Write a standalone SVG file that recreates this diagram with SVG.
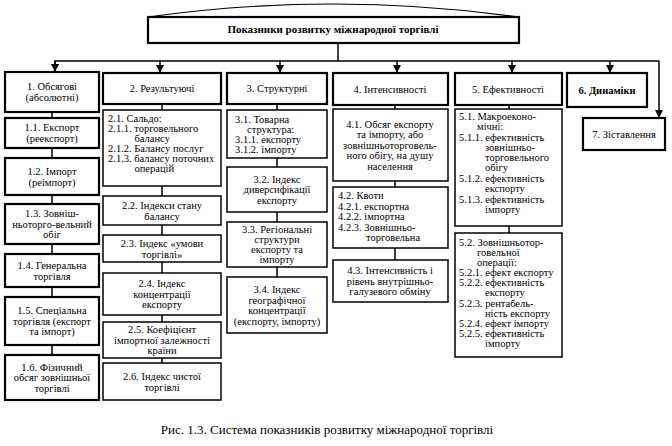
<svg xmlns="http://www.w3.org/2000/svg" width="672" height="446" viewBox="0 0 672 446">
<defs>
<style>
.b{fill:#fff;stroke:#000;stroke-width:1.5}
.h{fill:#fff;stroke:#000;stroke-width:2.2}
.l{fill:none;stroke:#000;stroke-width:1.5}
text{font-family:"Liberation Serif","Times New Roman",serif;font-size:10.5px;fill:#000}
.c{text-anchor:middle}
.bd{font-weight:bold}
</style>
<marker id="ar" viewBox="0 0 10 10" refX="10" refY="5" markerWidth="8" markerHeight="8" markerUnits="userSpaceOnUse" orient="auto">
<path d="M0,0 L10,5 L0,10 z" fill="#000"/>
</marker>
</defs>
<rect width="672" height="446" fill="#fff"/>

<g id="connectors">
<line class="l" x1="338" y1="43" x2="338" y2="61"/>
<path class="l" d="M55,73 V61 H659 V118" marker-end="url(#ar)"/>
<line class="l" x1="55" y1="61" x2="55" y2="72" marker-end="url(#ar)"/>
<line class="l" x1="160" y1="61" x2="160" y2="73" marker-end="url(#ar)"/>
<line class="l" x1="280" y1="61" x2="280" y2="73" marker-end="url(#ar)"/>
<line class="l" x1="397" y1="61" x2="397" y2="73" marker-end="url(#ar)"/>
<line class="l" x1="512" y1="61" x2="512" y2="73" marker-end="url(#ar)"/>
<line class="l" x1="610" y1="61" x2="610" y2="73" marker-end="url(#ar)"/>
<path class="l" d="M52,112 V118 M52,148 V158 M52,195 V204 M52,244 V254 M52,287 V297 M52,345 V355"/>
<path class="l" d="M162,104 V110 M162,186 V196 M162,225 V235 M162,262 V273 M162,315 V322 M162,358 V363"/>
<path class="l" d="M277,104 V110 M277,158 V167 M277,212 V222 M277,267 V277"/>
<path class="l" d="M395,105 V109 M395,181 V187 M395,248 V260"/>
<path class="l" d="M509,105 V109 M509,226 V233"/>
</g>

<g id="title">
<path d="M148,17 Q333,-9 519,17" fill="#fff" stroke="#000" stroke-width="1.2"/>
<rect class="h" x="148" y="17" width="371" height="26"/>
<text class="c bd" x="333" y="33" style="font-size:11px">Показники розвитку міжнародної торгівлі</text>
</g>

<g id="n1">
<rect class="h" x="5" y="72" width="94" height="40"/>
<text class="c" x="52" y="90">1. Обсягові</text>
<text class="c" x="52" y="101">(абсолютні)</text>
</g>
<g id="n1_1">
<rect class="h" x="5" y="118" width="94" height="30"/>
<text class="c" x="52" y="131">1.1. Експорт</text>
<text class="c" x="52" y="142">(реекспорт)</text>
</g>
<g id="n1_2">
<rect class="h" x="5" y="158" width="94" height="37"/>
<text class="c" x="52" y="175">1.2. Імпорт</text>
<text class="c" x="52" y="186">(реімпорт)</text>
</g>
<g id="n1_3">
<rect class="h" x="5" y="204" width="94" height="40"/>
<text class="c" x="52" y="217">1.3. Зовніш-</text>
<text class="c" x="52" y="227.5">ньоторго-вельний</text>
<text class="c" x="52" y="238">обіг</text>
</g>
<g id="n1_4">
<rect class="h" x="5" y="254" width="94" height="33"/>
<text class="c" x="52" y="269">1.4. Генеральна</text>
<text class="c" x="52" y="279.5">торгівля</text>
</g>
<g id="n1_5">
<rect class="h" x="5" y="297" width="94" height="48"/>
<text class="c" x="52" y="314">1.5. Спеціальна</text>
<text class="c" x="52" y="324.5">торгівля (експорт</text>
<text class="c" x="52" y="335">та імпорт)</text>
</g>
<g id="n1_6">
<rect class="h" x="5" y="355" width="94" height="45"/>
<text class="c" x="52" y="370.5">1.6. Фізичний</text>
<text class="c" x="52" y="381">обсяг зовнішньої</text>
<text class="c" x="52" y="391.5">торгівлі</text>
</g>

<g id="n2">
<rect class="h" x="103" y="73" width="118" height="31"/>
<text class="c" x="162" y="92">2. Результуючі</text>
</g>
<g id="n2_1">
<rect class="b" x="103" y="110" width="118" height="76"/>
<text x="108" y="122">2.1. Сальдо:</text>
<text x="108" y="132">2.1.1. торговельного</text>
<text x="134.5" y="142">балансу</text>
<text x="108" y="152">2.1.2. Балансу послуг</text>
<text x="108" y="162">2.1.3. балансу поточних</text>
<text x="134.5" y="172">операцій</text>
</g>
<g id="n2_2">
<rect class="b" x="103" y="196" width="118" height="29"/>
<text class="c" x="162" y="209">2.2. Індекси стану</text>
<text class="c" x="162" y="219.5">балансу</text>
</g>
<g id="n2_3">
<rect class="b" x="103" y="235" width="118" height="27"/>
<text class="c" x="162" y="247">2.3. Індекс «умови</text>
<text class="c" x="162" y="257.5">торгівлі»</text>
</g>
<g id="n2_4">
<rect class="b" x="103" y="273" width="118" height="42"/>
<text class="c" x="162" y="287">2.4. Індекс</text>
<text class="c" x="162" y="297.5">концентрації</text>
<text class="c" x="162" y="308">експорту</text>
</g>
<g id="n2_5">
<rect class="b" x="103" y="322" width="118" height="36"/>
<text class="c" x="162" y="333">2.5. Коефіцієнт</text>
<text class="c" x="162" y="343.5">імпортної залежності</text>
<text class="c" x="162" y="354">країни</text>
</g>
<g id="n2_6">
<rect class="b" x="103" y="363" width="118" height="37"/>
<text class="c" x="162" y="380">2.6. Індекс чистої</text>
<text class="c" x="162" y="390.5">торгівлі</text>
</g>

<g id="n3">
<rect class="h" x="227" y="73" width="100" height="31"/>
<text class="c" x="277" y="92">3. Структурні</text>
</g>
<g id="n3_1">
<rect class="b" x="227" y="110" width="100" height="48"/>
<text x="235" y="123">3.1. Товарна</text>
<text x="247" y="133">структура:</text>
<text x="235" y="143">3.1.1. експорту</text>
<text x="235" y="153">3.1.2. імпорту</text>
</g>
<g id="n3_2">
<rect class="b" x="227" y="167" width="100" height="45"/>
<text class="c" x="277" y="182.5">3.2. Індекс</text>
<text class="c" x="277" y="193">диверсифікації</text>
<text class="c" x="277" y="203.5">експорту</text>
</g>
<g id="n3_3">
<rect class="b" x="227" y="222" width="100" height="45"/>
<text class="c" x="277" y="233">3.3. Регіональні</text>
<text class="c" x="277" y="243">структури</text>
<text class="c" x="277" y="253">експорту та</text>
<text class="c" x="277" y="263">імпорту</text>
</g>
<g id="n3_4">
<rect class="b" x="227" y="277" width="100" height="56"/>
<text class="c" x="277" y="293">3.4. Індекс</text>
<text class="c" x="277" y="303.5">географічної</text>
<text class="c" x="277" y="314">концентрації</text>
<text class="c" x="277" y="324.5">(експорту, імпорту)</text>
</g>

<g id="n4">
<rect class="h" x="333" y="73" width="115" height="32"/>
<text class="c" x="390" y="92.5">4. Інтенсивності</text>
</g>
<g id="n4_1">
<rect class="b" x="333" y="109" width="115" height="72"/>
<text class="c" x="390" y="127.5">4.1. Обсяг експорту</text>
<text class="c" x="390" y="138">та імпорту, або</text>
<text class="c" x="390" y="148.5">зовнішньоторговель-</text>
<text class="c" x="390" y="159">ного обігу, на душу</text>
<text class="c" x="390" y="169.5">населення</text>
</g>
<g id="n4_2">
<rect class="b" x="333" y="187" width="115" height="61"/>
<text x="338" y="199">4.2. Квоти</text>
<text x="338" y="209.5">4.2.1. експортна</text>
<text x="338" y="220">4.2.2. імпортна</text>
<text x="338" y="230.5">4.2.3. Зовнішньо-</text>
<text x="366" y="241">торговельна</text>
</g>
<g id="n4_3">
<rect class="b" x="333" y="260" width="115" height="42"/>
<text class="c" x="390" y="274">4.3. Інтенсивність і</text>
<text class="c" x="390" y="284.5">рівень внутрішньо-</text>
<text class="c" x="390" y="295">галузевого обміну</text>
</g>

<g id="n5">
<rect class="h" x="455" y="73" width="107" height="32"/>
<text class="c" x="508" y="92.5">5. Ефективності</text>
</g>
<g id="n5_1">
<rect class="b" x="455" y="109" width="107" height="117"/>
<text x="459" y="120">5.1. Макроеконо-</text>
<text x="477" y="130">мічні:</text>
<text x="459" y="141">5.1.1. ефективність</text>
<text x="485" y="151">зовнішньо-</text>
<text x="485" y="161">торговельного</text>
<text x="485" y="171">обігу</text>
<text x="459" y="182">5.1.2. ефективність</text>
<text x="485" y="192">експорту</text>
<text x="459" y="203">5.1.3. ефективність</text>
<text x="485" y="213">імпорту</text>
</g>
<g id="n5_2">
<rect class="b" x="455" y="233" width="107" height="124"/>
<text x="459" y="245.5">5.2. Зовнішньотор-</text>
<text x="477" y="255.5">говельної</text>
<text x="477" y="265.5">операції:</text>
<text x="459" y="276">5.2.1. ефект експорту</text>
<text x="459" y="286">5.2.2. ефективність</text>
<text x="485" y="296">експорту</text>
<text x="459" y="306.5">5.2.3. рентабель-</text>
<text x="485" y="316.5">ність експорту</text>
<text x="459" y="327">5.2.4. ефект імпорту</text>
<text x="459" y="337">5.2.5. ефективність</text>
<text x="485" y="347">імпорту</text>
</g>

<g id="n6">
<rect class="h" x="567" y="73" width="80" height="34"/>
<text class="c bd" x="607" y="93.5">6. Динаміки</text>
</g>
<g id="n7">
<rect class="h" x="583" y="118" width="82" height="32"/>
<text class="c" x="624" y="137.5">7. Зіставлення</text>
</g>

<text class="c" x="327" y="434" style="font-size:13px">Рис. 1.3. Система показників розвитку міжнародної торгівлі</text>
</svg>
